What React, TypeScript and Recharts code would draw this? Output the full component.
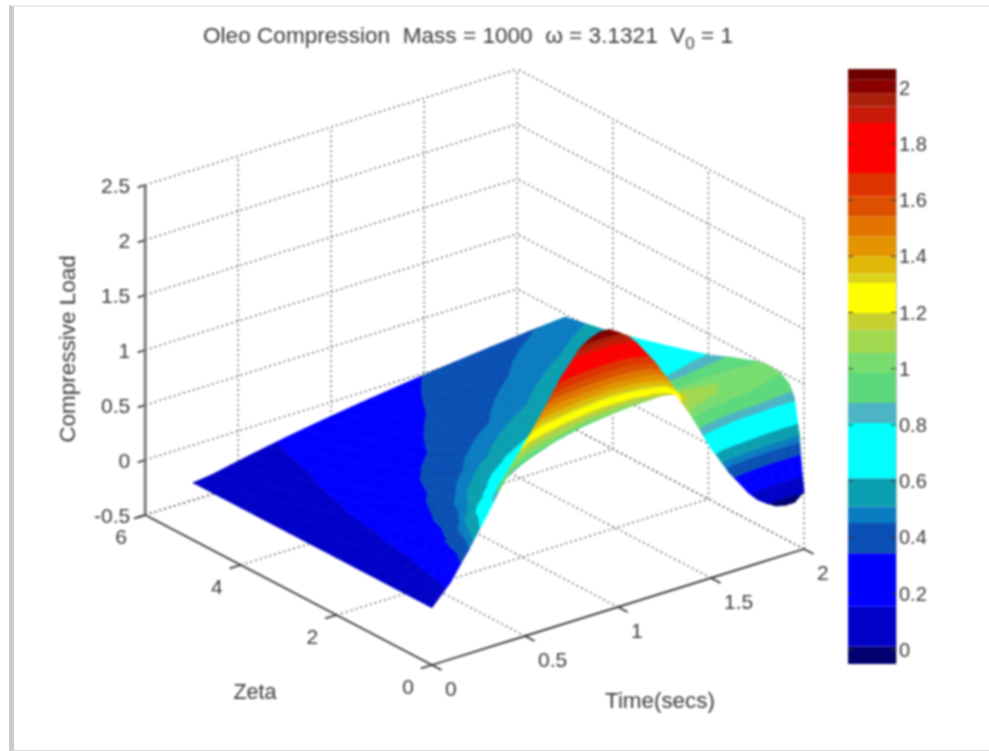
import { ScatterChart, Scatter, XAxis, YAxis, ReferenceLine, ReferenceArea, BarChart, Bar } from 'recharts'

// axes
const TIME = [0, 0.1, 0.2, 0.3, 0.4, 0.5, 0.6, 0.7, 0.8, 0.85, 0.9, 0.95, 1, 1.05, 1.1, 1.2, 1.3, 1.4, 1.5, 1.6, 1.7, 1.75, 1.8, 1.85, 1.9, 1.95, 2]
const ZETA = [0, 0.05, 0.1, 0.2, 0.3, 0.5, 0.75, 1, 1.5, 2, 3, 4, 5]
const TIME_TICKS = [0, 0.5, 1, 1.5, 2]
const ZETA_TICKS = [0, 2, 4, 6]
const LOAD_TICKS = [-0.5, 0, 0.5, 1, 1.5, 2, 2.5]
const BAR_TICKS = [0, 0.2, 0.4, 0.6, 0.8, 1, 1.2, 1.4, 1.6, 1.8, 2]

// load, one row per zeta, one value per time
const LOAD_Z0 = [0.02, 0.2, 0.45, 0.72, 1.0, 1.24, 1.5, 1.76, 1.97, 2.02, 2.05, 2.05, 2.0, 1.94, 1.85, 1.62, 1.34, 1.02, 0.68, 0.4, 0.17, 0.08, 0.02, -0.03, -0.05, -0.05, 0.02]
const LOAD_Z005 = [0.02, 0.19, 0.43, 0.69, 0.97, 1.2, 1.44, 1.66, 1.83, 1.88, 1.91, 1.91, 1.88, 1.82, 1.75, 1.56, 1.32, 1.04, 0.76, 0.52, 0.36, 0.28, 0.22, 0.18, 0.16, 0.17, 0.22]
const LOAD_Z01 = [0.02, 0.18, 0.4, 0.66, 0.93, 1.15, 1.36, 1.54, 1.68, 1.73, 1.77, 1.78, 1.78, 1.75, 1.7, 1.55, 1.34, 1.12, 0.93, 0.76, 0.64, 0.59, 0.55, 0.52, 0.5, 0.5, 0.52]
const LOAD_Z02 = [0.02, 0.16, 0.36, 0.6, 0.82, 1.02, 1.18, 1.3, 1.4, 1.44, 1.47, 1.5, 1.51, 1.5, 1.48, 1.4, 1.3, 1.17, 1.07, 0.99, 0.93, 0.91, 0.89, 0.87, 0.85, 0.84, 0.83]
const LOAD_Z03 = [0.02, 0.15, 0.33, 0.56, 0.76, 0.92, 1.06, 1.16, 1.25, 1.28, 1.31, 1.33, 1.35, 1.35, 1.34, 1.3, 1.24, 1.16, 1.1, 1.06, 1.03, 1.01, 0.99, 0.97, 0.96, 0.94, 0.93]
const LOAD_Z05 = [0.02, 0.13, 0.29, 0.5, 0.66, 0.78, 0.88, 0.96, 1.03, 1.06, 1.09, 1.12, 1.14, 1.15, 1.16, 1.16, 1.14, 1.12, 1.09, 1.07, 1.05, 1.04, 1.03, 1.02, 1.01, 1.0, 0.99]
const LOAD_Z075 = [0.02, 0.11, 0.24, 0.39, 0.53, 0.65, 0.74, 0.82, 0.88, 0.91, 0.93, 0.95, 0.97, 0.98, 0.99, 1.01, 1.02, 1.03, 1.03, 1.03, 1.02, 1.02, 1.02, 1.01, 1.01, 1.0, 1.0]
const LOAD_Z1 = [0.02, 0.1, 0.2, 0.33, 0.45, 0.56, 0.65, 0.72, 0.78, 0.81, 0.83, 0.85, 0.86, 0.88, 0.89, 0.92, 0.94, 0.95, 0.96, 0.97, 0.98, 0.98, 0.98, 0.98, 0.98, 0.98, 0.98]
const LOAD_Z15 = [0.02, 0.09, 0.18, 0.27, 0.36, 0.44, 0.51, 0.57, 0.63, 0.65, 0.67, 0.69, 0.71, 0.73, 0.74, 0.77, 0.8, 0.82, 0.84, 0.86, 0.87, 0.875, 0.88, 0.885, 0.89, 0.895, 0.9]
const LOAD_Z2 = [0.02, 0.08, 0.15, 0.22, 0.29, 0.35, 0.41, 0.46, 0.505, 0.525, 0.545, 0.565, 0.585, 0.6, 0.62, 0.65, 0.675, 0.7, 0.72, 0.74, 0.76, 0.77, 0.78, 0.79, 0.8, 0.805, 0.81]
const LOAD_Z3 = [0.02, 0.065, 0.12, 0.17, 0.213, 0.253, 0.292, 0.328, 0.362, 0.379, 0.395, 0.411, 0.427, 0.442, 0.457, 0.487, 0.515, 0.541, 0.566, 0.59, 0.612, 0.622, 0.632, 0.642, 0.652, 0.665, 0.68]
const LOAD_Z4 = [0.02, 0.05, 0.09, 0.13, 0.167, 0.2, 0.232, 0.262, 0.291, 0.305, 0.318, 0.331, 0.344, 0.357, 0.37, 0.395, 0.419, 0.442, 0.464, 0.485, 0.505, 0.515, 0.524, 0.533, 0.542, 0.551, 0.56]
const LOAD_Z5 = [0.02, 0.04, 0.075, 0.108, 0.14, 0.17, 0.197, 0.223, 0.248, 0.26, 0.272, 0.283, 0.294, 0.305, 0.316, 0.337, 0.357, 0.376, 0.394, 0.411, 0.427, 0.435, 0.443, 0.451, 0.458, 0.465, 0.472]
const LOAD_ROWS = [LOAD_Z0, LOAD_Z005, LOAD_Z01, LOAD_Z02, LOAD_Z03, LOAD_Z05, LOAD_Z075, LOAD_Z1, LOAD_Z15, LOAD_Z2, LOAD_Z3, LOAD_Z4, LOAD_Z5]

// colour bands of the colorbar
const BAND_EDGES = [-0.05, 0.012, 0.154, 0.344, 0.451, 0.51, 0.611, 0.807, 0.878, 0.985, 1.056, 1.139, 1.198, 1.305, 1.34, 1.4, 1.471, 1.542, 1.613, 1.696, 1.874, 1.933, 1.98, 2.028, 2.066]
const BAND_COLORS = ['#00006e', '#0000c8', '#0000ff', '#0a50b4', '#0a7cc0', '#0a9fb0', '#00ffff', '#4cb4c4', '#5cd87c', '#78dc70', '#a0d850', '#c8d030', '#ffff00', '#dcd41c', '#e0b808', '#e49400', '#e47400', '#dc5000', '#e03400', '#ff0000', '#c81a08', '#a82008', '#8a0000', '#6c0000']

const TEXT_COLOR = '#3a3a3a'
const FONT = '"Liberation Sans", Arial, sans-serif'

// the view: a fixed oblique projection of (time, zeta, load) on to the plot
const project = (t: number, zeta: number, load: number) => ({
  x: 432 + 186 * t - 47.8 * zeta,
  y: 665 - 58 * t - 25 * zeta - 110 * (load + 0.5),
})

type P = { t: number; zeta: number; load: number }

function clipLoad(poly: P[], level: number, above: boolean) {
  const out: P[] = []
  poly.forEach((a, i) => {
    const b = poly[(i + 1) % poly.length]
    const ain = above ? a.load >= level : a.load <= level
    const bin = above ? b.load >= level : b.load <= level
    if (ain) out.push(a)
    if (ain !== bin) {
      const k = (level - a.load) / (b.load - a.load)
      out.push({ t: a.t + k * (b.t - a.t), zeta: a.zeta + k * (b.zeta - a.zeta), load: level })
    }
  })
  return out
}

// split every triangle of the surface by colour band, far cells first
function buildPatches() {
  const patches: any[] = []
  const addTriangle = (tri: P[]) => {
    BAND_COLORS.forEach((fill, b) => {
      let poly = tri
      if (b > 0) poly = clipLoad(poly, BAND_EDGES[b], true)
      if (poly.length && b < BAND_COLORS.length - 1) poly = clipLoad(poly, BAND_EDGES[b + 1], false)
      if (poly.length < 3) return
      const pts = poly.map((p) => project(p.t, p.zeta, p.load))
      const x = pts.reduce((s, p) => s + p.x, 0) / pts.length
      const y = pts.reduce((s, p) => s + p.y, 0) / pts.length
      patches.push({ x, y, pts, fill })
    })
  }
  for (let j = ZETA.length - 2; j >= 0; j--) {
    for (let i = TIME.length - 2; i >= 0; i--) {
      const p00 = { t: TIME[i], zeta: ZETA[j], load: LOAD_ROWS[j][i] }
      const p10 = { t: TIME[i + 1], zeta: ZETA[j], load: LOAD_ROWS[j][i + 1] }
      const p01 = { t: TIME[i], zeta: ZETA[j + 1], load: LOAD_ROWS[j + 1][i] }
      const p11 = { t: TIME[i + 1], zeta: ZETA[j + 1], load: LOAD_ROWS[j + 1][i + 1] }
      addTriangle([p11, p10, p01])
      addTriangle([p10, p00, p01])
    }
  }
  return patches
}

function PatchShape(props: any) {
  const { cx, cy, payload } = props
  const points = payload.pts.map((p: any) => `${p.x - payload.x + cx},${p.y - payload.y + cy}`).join(' ')
  return <polygon points={points} fill={payload.fill} stroke={payload.fill} strokeWidth={0.7} strokeLinejoin="round" />
}

function LabelShape(props: any) {
  const { cx, cy, payload } = props
  const transform = payload.rotate ? `rotate(${payload.rotate} ${cx} ${cy})` : undefined
  return (
    <text x={cx} y={cy} transform={transform} textAnchor={payload.anchor} dominantBaseline="central" fontFamily={FONT} fontSize={payload.size} fill={TEXT_COLOR}>
      {payload.text}
      {payload.sub && <tspan dy={8} fontSize={payload.size * 0.75}>{payload.sub}</tspan>}
      {payload.sub && <tspan dy={-8}>{payload.after}</tspan>}
    </text>
  )
}

type Seg = { a: [number, number, number]; b: [number, number, number] }

function dottedSegments() {
  const segs: Seg[] = []
  const wallTimes = TIME_TICKS.slice(1)
  const wallZetas = ZETA_TICKS.slice(0, 3)
  wallTimes.forEach((t) => segs.push({ a: [t, 6, -0.5], b: [t, 6, 2.5] }))
  wallZetas.forEach((z) => segs.push({ a: [2, z, -0.5], b: [2, z, 2.5] }))
  LOAD_TICKS.forEach((l) => {
    segs.push({ a: [0, 6, l], b: [2, 6, l] })
    segs.push({ a: [2, 0, l], b: [2, 6, l] })
  })
  TIME_TICKS.slice(1).forEach((t) => segs.push({ a: [t, 0, -0.5], b: [t, 6, -0.5] }))
  ZETA_TICKS.slice(1).forEach((z) => segs.push({ a: [0, z, -0.5], b: [2, z, -0.5] }))
  return segs
}

function solidSegments() {
  const segs: Seg[] = [
    { a: [0, 0, -0.5], b: [2, 0, -0.5] },
    { a: [0, 0, -0.5], b: [0, 6, -0.5] },
  ]
  TIME_TICKS.forEach((t) => segs.push({ a: [t, 0, -0.5], b: [t, -0.2, -0.5] }))
  ZETA_TICKS.forEach((z) => segs.push({ a: [0, z, -0.5], b: [-0.06, z, -0.5] }))
  LOAD_TICKS.forEach((l) => segs.push({ a: [0, 6, l], b: [-0.04, 6, l] }))
  return segs
}

function segLine(s: Seg, key: string, extra: any) {
  const a = project(...s.a)
  const b = project(...s.b)
  return <ReferenceLine key={key} segment={[{ x: a.x, y: a.y }, { x: b.x, y: b.y }]} {...extra} />
}

function buildLabels() {
  const labels: any[] = []
  LOAD_TICKS.forEach((l) => {
    const p = project(0, 6, l)
    labels.push({ x: p.x - 15, y: p.y, text: String(l), anchor: 'end', size: 21 })
  })
  TIME_TICKS.forEach((t) => {
    const p = project(t, 0, -0.5)
    labels.push({ x: p.x + 13, y: p.y + 23, text: String(t), anchor: 'start', size: 21 })
  })
  ZETA_TICKS.forEach((z) => {
    const p = project(0, z, -0.5)
    labels.push({ x: p.x - 24, y: p.y + 21, text: String(z), anchor: 'middle', size: 21 })
  })
  labels.push({ x: 255, y: 692, text: 'Zeta', anchor: 'middle', size: 21.5 })
  labels.push({ x: 660, y: 700, text: 'Time(secs)', anchor: 'middle', size: 22.4 })
  labels.push({ x: 67, y: 349, text: 'Compressive Load', anchor: 'middle', size: 22.5, rotate: -90 })
  labels.push({
    x: 203,
    y: 35,
    text: 'Oleo Compression\u00a0\u00a0Mass = 1000\u00a0\u00a0\u03c9 = 3.1321\u00a0\u00a0V',
    sub: '0',
    after: ' = 1',
    anchor: 'start',
    size: 22.6,
  })
  return labels
}

function BarTick(props: any) {
  const { x, y, payload } = props
  return (
    <g>
      <line x1={x - 48} x2={x - 43} y1={y} y2={y} stroke="#333" />
      <line x1={x - 5} x2={x} y1={y} y2={y} stroke="#333" />
      <text x={x + 3} y={y} dominantBaseline="central" fontFamily={FONT} fontSize={20} fill={TEXT_COLOR}>
        {payload.value}
      </text>
    </g>
  )
}

function Colorbar() {
  // stack starts at zero, so the part of the first band below zero is its own bar
  const row: Record<string, any> = { name: 'c', below: BAND_EDGES[0], first: BAND_EDGES[1] }
  BAND_COLORS.forEach((_, i) => {
    if (i > 0) row[`b${i}`] = BAND_EDGES[i + 1] - BAND_EDGES[i]
  })
  return (
    <BarChart width={95} height={595} data={[row]} margin={{ top: 0, right: 0, bottom: 0, left: 0 }} barCategoryGap={0} stackOffset="sign">
      <XAxis dataKey="name" hide />
      <YAxis orientation="right" width={47} domain={[BAND_EDGES[0], BAND_EDGES[BAND_EDGES.length - 1]]} allowDataOverflow ticks={BAR_TICKS} interval={0} axisLine={false} tickLine={false} tickSize={0} tickMargin={0} tick={BarTick} />
      <Bar dataKey="below" stackId="s" fill={BAND_COLORS[0]} isAnimationActive={false} />
      <Bar dataKey="first" stackId="s" fill={BAND_COLORS[0]} isAnimationActive={false} />
      {BAND_COLORS.map((c, i) => (i > 0 ? <Bar key={i} dataKey={`b${i}`} stackId="s" fill={c} isAnimationActive={false} /> : null))}
      <ReferenceArea y1={BAND_EDGES[0]} y2={BAND_EDGES[BAND_EDGES.length - 1]} fillOpacity={0} stroke="#444" strokeOpacity={0.7} />
    </BarChart>
  )
}

export default function App() {
  const patches = buildPatches()
  const labels = buildLabels()
  return (
    <div style={{ position: 'absolute', left: 0, top: 0, width: 989, height: 751, background: '#fff', overflow: 'hidden' }}>
      <div style={{ position: 'absolute', left: 9, top: 5, width: 985, height: 743, borderLeft: '5px solid #cbcbcb', borderTop: '2px solid #eee', borderBottom: '2px solid #ddd' }} />
      <div style={{ position: 'absolute', left: 0, top: 0, width: 989, height: 751, filter: 'blur(0.9px)' }}>
        <div style={{ position: 'absolute', left: 0, top: 0 }}>
          <ScatterChart width={989} height={751} margin={{ top: 0, right: 0, bottom: 0, left: 0 }}>
            <XAxis type="number" dataKey="x" domain={[0, 989]} hide />
            <YAxis type="number" dataKey="y" domain={[0, 751]} reversed hide />
            {dottedSegments().map((s, i) => segLine(s, `d${i}`, { stroke: '#555', strokeWidth: 1.6, strokeDasharray: '1.6 3.4' }))}
            {solidSegments().map((s, i) => segLine(s, `s${i}`, { stroke: '#333', strokeWidth: 1.8 }))}
            {segLine({ a: [0, 6, -0.5], b: [0, 6, 2.5] }, 'zaxis', { stroke: '#707070', strokeWidth: 2.8 })}
            <Scatter data={patches} shape={PatchShape} isAnimationActive={false} />
            <Scatter data={labels} shape={LabelShape} isAnimationActive={false} />
          </ScatterChart>
        </div>
        <div style={{ position: 'absolute', left: 848, top: 69 }}>
          <Colorbar />
        </div>
      </div>
    </div>
  )
}
